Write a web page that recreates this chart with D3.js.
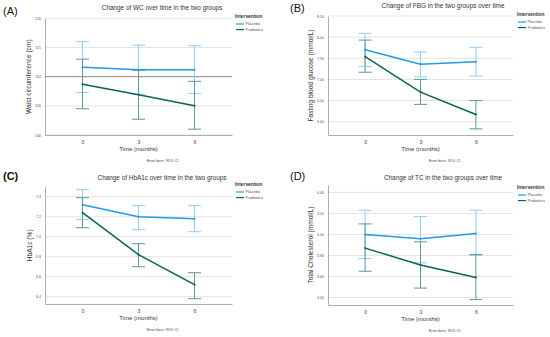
<!DOCTYPE html>
<html>
<head>
<meta charset="utf-8">
<script src="https://cdn.jsdelivr.net/npm/d3@7"></script>
<style>
  body { margin: 0; background: #fff; }
  svg { display: block; font-family: "Liberation Sans", Arial, sans-serif; }
</style>
</head>
<body>
<svg width="550" height="337"></svg>
<script>
// time points (months) and groups
var months = ["0", "3", "6"];
var groups = ["Placebo", "Probiotics"];

// (A) waist circumference, cm
var wcPlacebo = [111.6, 111.2, 111.2];
var wcPlaceboLo = [107.3, 107.0, 107.1];
var wcPlaceboHi = [116.0, 115.4, 115.3];
var wcProbiotics = [108.7, 106.9, 105.0];
var wcProbioticsLo = [104.5, 102.7, 101.0];
var wcProbioticsHi = [113.0, 111.1, 109.2];
var wcTicks = [100, 105, 110, 115, 120];

// (B) fasting blood glucose, mmol/L
var fbgPlacebo = [7.70, 7.36, 7.42];
var fbgPlaceboLo = [7.31, 7.06, 7.08];
var fbgPlaceboHi = [8.09, 7.65, 7.76];
var fbgProbiotics = [7.54, 6.70, 6.17];
var fbgProbioticsLo = [7.17, 6.41, 5.83];
var fbgProbioticsHi = [7.93, 7.00, 6.50];
var fbgTicks = [6.0, 6.5, 7.0, 7.5, 8.0, 8.5];

// (C) HbA1c, %
var hbPlacebo = [7.32, 7.20, 7.18];
var hbPlaceboLo = [7.17, 7.07, 7.05];
var hbPlaceboHi = [7.47, 7.31, 7.31];
var hbProbiotics = [7.24, 6.82, 6.52];
var hbProbioticsLo = [7.09, 6.70, 6.38];
var hbProbioticsHi = [7.39, 6.93, 6.64];
var hbTicks = [6.4, 6.6, 6.8, 7.0, 7.2, 7.4];

// (D) total cholesterol, mmol/L
var tcPlacebo = [4.00, 3.96, 4.01];
var tcPlaceboLo = [3.77, 3.73, 3.80];
var tcPlaceboHi = [4.23, 4.17, 4.23];
var tcProbiotics = [3.87, 3.71, 3.59];
var tcProbioticsLo = [3.65, 3.49, 3.38];
var tcProbioticsHi = [4.10, 3.93, 3.81];
var tcTicks = [3.4, 3.6, 3.8, 4.0, 4.2, 4.4];

var lineColor = {Placebo: "#1f9be8", Probiotics: "#0b6358"};
var barColor = {Placebo: "#92cdf2", Probiotics: "#5b9a94"};

var svg = d3.select("svg");

function drawPanel(p) {
  var g = svg.append("g").attr("transform", "translate(" + p.ox + "," + p.oy + ")");

  var x = d3.scalePoint().domain(months).range([p.left, p.right]).padding(0.67);
  var y = d3.scaleLinear().domain(p.yDomain).range([p.bottom, p.top]);

  // panel letter
  g.append("text").attr("x", p.letterX).attr("y", p.letterY)
    .style("font-size", "11px").style("fill", "#111")
    .style("font-weight", p.letterBold ? "bold" : "normal").text(p.letter);

  // title
  g.append("text").attr("x", p.titleX).attr("y", p.titleY)
    .attr("text-anchor", "middle").style("font-size", "6.4px").style("fill", "#333")
    .text(p.title);

  // gridlines
  g.append("g").selectAll("line").data(p.ticks).enter().append("line")
    .attr("x1", p.left).attr("x2", p.right)
    .attr("y1", function(d) { return y(d); }).attr("y2", function(d) { return y(d); })
    .style("stroke", "#dcdcdc").style("stroke-width", 0.8);

  // y axis
  var ya = g.append("g").attr("transform", "translate(" + p.left + ",0)")
    .call(d3.axisLeft(y).tickValues(p.ticks).tickFormat(d3.format(p.fmt)).tickSize(0).tickPadding(4));
  ya.select(".domain").style("stroke", "#999").style("stroke-width", 0.8);
  ya.selectAll("text").style("font-size", "3.6px").style("fill", "#555").style("font-family", "Liberation Sans, Arial, sans-serif");

  // x axis
  var xa = g.append("g").attr("transform", "translate(0," + p.bottom + ")")
    .call(d3.axisBottom(x).tickSize(0).tickPadding(5));
  xa.select(".domain").style("stroke", "#999").style("stroke-width", 0.8);
  xa.selectAll("text").style("font-size", "5.2px").style("fill", "#444").style("font-family", "Liberation Sans, Arial, sans-serif");

  if (p.refLine != null) {
    g.append("line").attr("x1", p.left).attr("x2", p.right)
      .attr("y1", y(p.refLine)).attr("y2", y(p.refLine))
      .style("stroke", "#777").style("stroke-width", 0.8);
  }

  // axis titles
  g.append("text")
    .attr("transform", "translate(" + p.ylabX + "," + ((p.top + p.bottom) / 2) + ") rotate(-90)")
    .attr("text-anchor", "middle").style("font-size", "6.6px").style("fill", "#333")
    .text(p.ylabel);
  g.append("text").attr("x", x("3")).attr("y", p.bottom + 16)
    .attr("text-anchor", "middle").style("font-size", "6px").style("fill", "#333")
    .text("Time (months)");
  g.append("text").attr("x", x("3") + 24).attr("y", p.bottom + 27)
    .attr("text-anchor", "middle").style("font-size", "3.8px").style("fill", "#444")
    .text("Error bars: 95% CI");

  var line = d3.line()
    .x(function(d) { return x(d.m); })
    .y(function(d) { return y(d.v); });

  p.series.forEach(function(s) {
    var pts = months.map(function(m, i) { return {m: m, v: s.mean[i], lo: s.lo[i], hi: s.hi[i]}; });
    var eb = g.append("g");
    pts.forEach(function(d) {
      var cx = x(d.m);
      eb.append("line").attr("x1", cx).attr("x2", cx).attr("y1", y(d.lo)).attr("y2", y(d.hi))
        .style("stroke", barColor[s.name]).style("stroke-width", 1);
      [d.lo, d.hi].forEach(function(v) {
        eb.append("line").attr("x1", cx - 6.5).attr("x2", cx + 6.5).attr("y1", y(v)).attr("y2", y(v))
          .style("stroke", barColor[s.name]).style("stroke-width", 1);
      });
    });
  });

  p.series.forEach(function(s) {
    var pts = months.map(function(m, i) { return {m: m, v: s.mean[i]}; });
    g.append("path").datum(pts).attr("d", line)
      .style("fill", "none").style("stroke", lineColor[s.name]).style("stroke-width", 1.5);
    g.selectAll(null).data(pts).enter().append("circle")
      .attr("cx", function(d) { return x(d.m); }).attr("cy", function(d) { return y(d.v); })
      .attr("r", 1).style("fill", lineColor[s.name]);
  });

  // legend
  var lg = g.append("g").attr("transform", "translate(" + p.legX + "," + p.legY + ")");
  lg.append("text").attr("x", 0).attr("y", 0).style("font-size", "4.8px").style("font-weight", "bold")
    .style("fill", "#333").text("Intervention");
  groups.forEach(function(name, i) {
    lg.append("line").attr("x1", 1).attr("x2", 9).attr("y1", 6 + i * 5.6).attr("y2", 6 + i * 5.6)
      .style("stroke", lineColor[name]).style("stroke-width", 1.2);
    lg.append("text").attr("x", 10.5).attr("y", 7.4 + i * 5.6).style("font-size", "4px")
      .style("fill", "#555").text(name);
  });
}

drawPanel({
  ox: 0, oy: 0, letter: "(A)", letterX: 3, letterY: 15,
  title: "Change of WC over time in the two groups", titleX: 162, titleY: 9.5,
  left: 45, right: 232, top: 18.3, bottom: 135, yDomain: [100, 120], ticks: wcTicks, fmt: "d",
  refLine: 110, ylabel: "Waist circumference (cm)", ylabX: 31, legX: 235, legY: 18,
  series: [
    {name: "Placebo", mean: wcPlacebo, lo: wcPlaceboLo, hi: wcPlaceboHi},
    {name: "Probiotics", mean: wcProbiotics, lo: wcProbioticsLo, hi: wcProbioticsHi}
  ]
});

drawPanel({
  ox: 275, oy: 0, letter: "(B)", letterX: 15, letterY: 12,
  title: "Change of FBG in the two groups over time", titleX: 168, titleY: 8,
  left: 53, right: 238, top: 16, bottom: 135, yDomain: [5.685, 8.5], ticks: fbgTicks, fmt: ".2f",
  refLine: null, ylabel: "Fasting blood glucose (mmol/L)", ylabX: 38, legX: 242, legY: 16,
  series: [
    {name: "Placebo", mean: fbgPlacebo, lo: fbgPlaceboLo, hi: fbgPlaceboHi},
    {name: "Probiotics", mean: fbgProbiotics, lo: fbgProbioticsLo, hi: fbgProbioticsHi}
  ]
});

drawPanel({
  ox: 0, oy: 165, letter: "(C)", letterX: 3, letterY: 15, letterBold: true,
  title: "Change of HbA1c over time in the two groups", titleX: 162, titleY: 15,
  left: 45, right: 232, top: 21.7, bottom: 139, yDomain: [6.327, 7.5], ticks: hbTicks, fmt: ".1f",
  refLine: null, ylabel: "HbA1c (%)", ylabX: 32, legX: 235, legY: 21,
  series: [
    {name: "Placebo", mean: hbPlacebo, lo: hbPlaceboLo, hi: hbPlaceboHi},
    {name: "Probiotics", mean: hbProbiotics, lo: hbProbioticsLo, hi: hbProbioticsHi}
  ]
});

drawPanel({
  ox: 275, oy: 165, letter: "(D)", letterX: 15, letterY: 15,
  title: "Change of TC in the two groups over time", titleX: 168, titleY: 15,
  left: 53, right: 238, top: 20, bottom: 140, yDomain: [3.329, 4.47], ticks: tcTicks, fmt: ".2f",
  refLine: null, ylabel: "Total Cholesterol (mmol/L)", ylabX: 38, legX: 242, legY: 24,
  series: [
    {name: "Placebo", mean: tcPlacebo, lo: tcPlaceboLo, hi: tcPlaceboHi},
    {name: "Probiotics", mean: tcProbiotics, lo: tcProbioticsLo, hi: tcProbioticsHi}
  ]
});
</script>
</body>
</html>
